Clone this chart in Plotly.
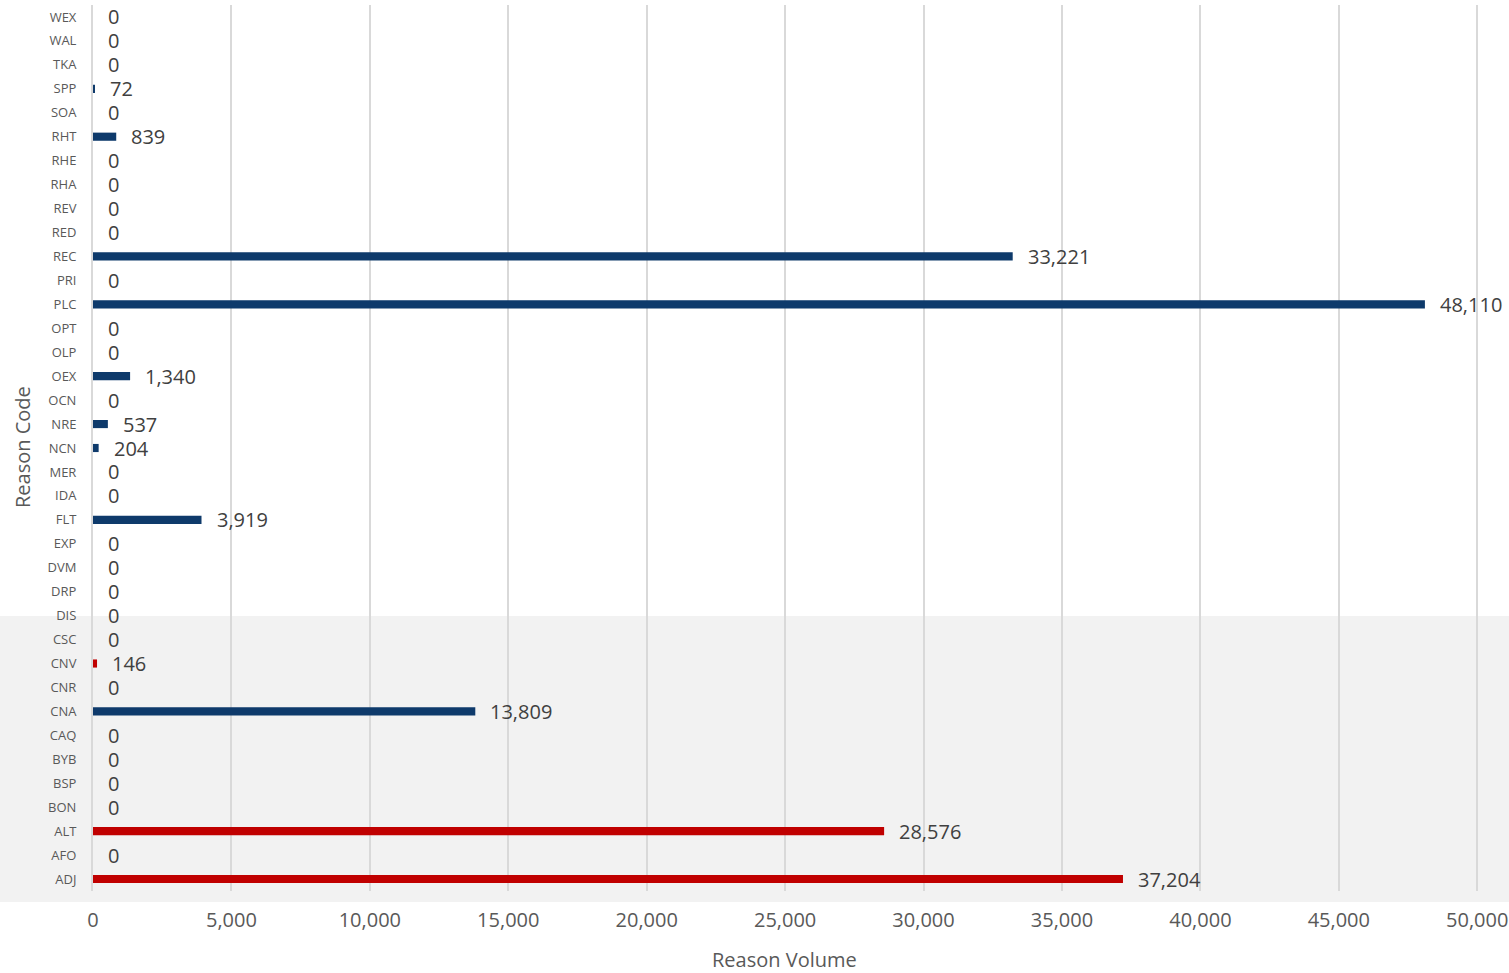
import plotly.graph_objects as go

categories = ["ADJ", "AFO", "ALT", "BON", "BSP", "BYB", "CAQ", "CNA", "CNR", "CNV",
              "CSC", "DIS", "DRP", "DVM", "EXP", "FLT", "IDA", "MER", "NCN", "NRE",
              "OCN", "OEX", "OLP", "OPT", "PLC", "PRI", "REC", "RED", "REV", "RHA",
              "RHE", "RHT", "SOA", "SPP", "TKA", "WAL", "WEX"]
values = [37204, 0, 28576, 0, 0, 0, 0, 13809, 0, 146,
          0, 0, 0, 0, 0, 3919, 0, 0, 204, 537,
          0, 1340, 0, 0, 48110, 0, 33221, 0, 0, 0,
          0, 839, 0, 72, 0, 0, 0]
highlight = {"ADJ", "ALT", "CNV"}
x_ticks = [0, 5000, 10000, 15000, 20000, 25000, 30000, 35000, 40000, 45000, 50000]
x_max = 50100

NAVY = "#0E3A6B"
RED = "#C00000"
colors = [RED if c in highlight else NAVY for c in categories]

fig = go.Figure()
fig.add_trace(go.Bar(
    x=values, y=categories, orientation="h",
    marker=dict(color=colors, line=dict(width=0)),
    width=0.34, hoverinfo="x+y",
))

for c, v in zip(categories, values):
    fig.add_annotation(x=v, y=c, text=f"{v:,}", showarrow=False,
                       xanchor="left", yanchor="middle", xshift=13,
                       font=dict(size=20, color="#404040", family="Open Sans"))

W, H = 1509, 973
ml, mr, mt, mb = 93, 29, 5, 82
pw = W - ml - mr
ph = H - mt - mb
bottom = H - mb
# grey band behind lower part of chart (page pixel rows 616..902)
fig.add_shape(type="rect", xref="paper", yref="paper",
              x0=-ml / pw, x1=(W - ml) / pw,
              y0=-(902 - bottom) / ph, y1=(bottom - 616) / ph,
              fillcolor="#F2F2F2", line=dict(width=0), layer="below")

# axis titles
fig.add_annotation(xref="paper", yref="paper", x=(784 - ml) / pw, y=-(959 - bottom) / ph,
                   text="Reason Volume", showarrow=False, xanchor="center", yanchor="middle",
                   borderpad=0,
                   font=dict(size=20, color="#595959", family="Open Sans"))
fig.add_annotation(xref="paper", yref="paper", x=-(ml - 22) / pw, y=(bottom - 447) / ph,
                   text="Reason Code", showarrow=False, xanchor="center", yanchor="middle",
                   textangle=-90,
                   font=dict(size=20, color="#595959", family="Open Sans"))

fig.update_layout(
    width=W, height=H,
    margin=dict(l=ml, r=mr, t=mt, b=mb, pad=0, autoexpand=False),
    paper_bgcolor="white", plot_bgcolor="rgba(0,0,0,0)",
    showlegend=False,
    font=dict(family="Open Sans", color="#595959"),
    xaxis=dict(range=[0, x_max], tickvals=x_ticks,
               ticktext=[f"{t:,}" for t in x_ticks],
               showgrid=True, gridcolor="#D9D9D9", gridwidth=2,
               zeroline=False, showline=False, automargin=False,
               tickfont=dict(size=20, color="#595959"),
               ticks="", ticklabelstandoff=15),
    yaxis=dict(categoryorder="array", categoryarray=categories,
               range=[-0.5, len(categories) - 0.5],
               showgrid=False, zeroline=False, automargin=False,
               showline=True, linecolor="#D9D9D9", linewidth=2,
               tickfont=dict(size=13, color="#595959"),
               ticks="", ticklabelstandoff=12),
)

fig.write_html("out.html", config={"displayModeBar": False},
               post_script="document.body.style.margin='0';")
